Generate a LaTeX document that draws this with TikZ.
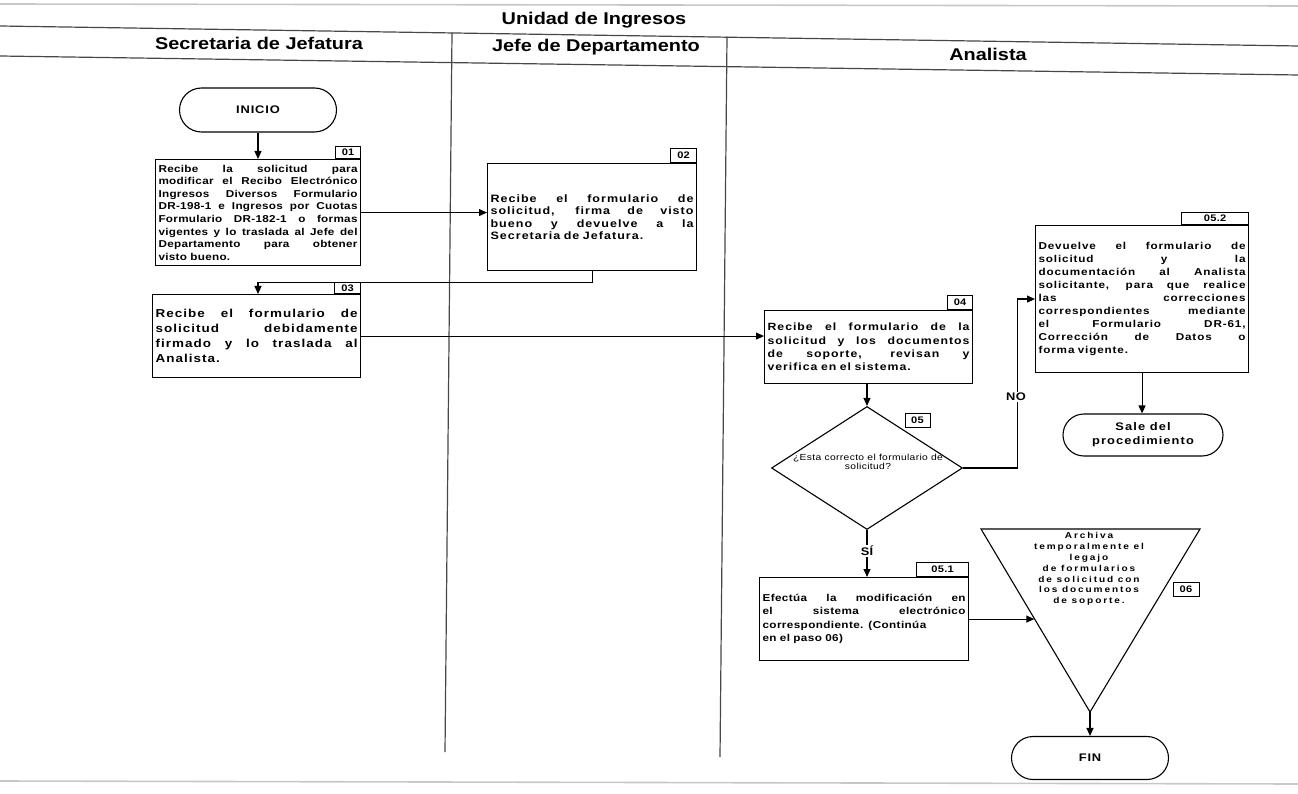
\documentclass[tikz,border=0pt]{standalone}
\usepackage{fontspec}
\setmainfont{Liberation Sans}
\newfontfamily\hdrfont{Liberation Sans}[FakeStretch=1.17]
\newfontfamily\boxfam{Liberation Sans}[FakeStretch=1.17]
\newfontfamily\tinyfam{Liberation Sans}[FakeStretch=1.17,LetterSpace=4]
\newfontfamily\trifam{Liberation Sans}[FakeStretch=1.17,LetterSpace=22]
\usetikzlibrary{arrows.meta,shapes.misc,shapes.geometric,calc}

% bold box font: letter spacing, size, line distance
\newcommand\bxf[3]{\boxfam\bfseries\addfontfeatures{LetterSpace=#1}\fontsize{#2}{#3}\selectfont}

% one fully justified line of a process box, and a final ragged line
\newcommand\jl[1]{\hbox to \hsize{\spaceskip=.3em plus 1fil\relax #1}}
\newcommand\lastln[1]{\hbox to \hsize{#1\hfil}}

\tikzset{
  proc/.style={draw, line width=1.1pt, anchor=north west, inner xsep=3pt, inner ysep=2pt,
    text width=#1, font={\bxf{8}{10.5}{13}}},
  tag/.style={draw, line width=1pt, inner sep=0pt, minimum height=13pt, minimum width=26pt,
    font={\bxf{3}{9.5}{10}}, anchor=south east},
  term/.style={draw, line width=1.1pt, rounded rectangle, inner sep=0pt, align=center,
    font={\bxf{8}{11}{14}}},
  arr/.style={line width=1.1pt, -{Triangle[length=8pt,width=7pt]}},
  lane/.style={line width=1.2pt, draw=black!72},
  hdr/.style={font={\hdrfont\bfseries\fontsize{17}{20}\selectfont}, inner sep=0pt},
  cut/.style={fill=white, inner sep=1.5pt, font={\bxf{3}{11}{12}}}
}

\begin{document}
\begin{tikzpicture}[x=1pt,y=-1pt]
\useasboundingbox (0,0) rectangle (1298,794);

% faint page edges
\draw[black!22, line width=1.6pt] (0,4) -- (1298,6);
\draw[black!22, line width=1.6pt] (0,781) -- (1298,784);

% swimlane frame
\draw[lane] (0,26) -- (1298,46);
\draw[lane] (0,56) -- (1298,75);
\draw[lane] (452,32.6) -- (445,752);
\draw[lane] (727,36.6) -- (720,757);

\node[hdr] (title) at (594,20) {Unidad de Ingresos};
\node[hdr] (hsec)  at (259,43) {Secretaria de Jefatura};
\node[hdr] (hjefe) at (596,47) {Jefe de Departamento};
\node[hdr] (hana)  at (988,54) {Analista};

% Secretaria de Jefatura
\node[term, minimum width=157pt, minimum height=44pt] (ini) at (258,110) {INICIO};

\node[proc=199pt, minimum height=106pt, font={\bxf{3}{10}{12.6}}] (b01) at (155,159) {%
\jl{Recibe la solicitud para}
\jl{modificar el Recibo Electrónico}
\jl{Ingresos Diversos Formulario}
\jl{DR-198-1 e Ingresos por Cuotas}
\jl{Formulario DR-182-1 o formas}
\jl{vigentes y lo traslada al Jefe del}
\jl{Departamento para obtener}
\lastln{visto bueno.}};
\node[tag, minimum width=25pt, minimum height=12pt] (t01) at (b01.north east) {01};

\node[proc=202pt, minimum height=83pt, font={\bxf{9}{11.5}{15}}] (b03) at (152,294) {%
\jl{Recibe el formulario de}
\jl{solicitud debidamente}
\jl{firmado y lo traslada al}
\lastln{Analista.}};
\node[tag, minimum height=11pt] (t03) at (b03.north east) {03};

% Jefe de Departamento
\node[proc=203pt, minimum height=107pt, font={\bxf{9.5}{10.7}{12.3}}] (b02) at (487,163) {%
\jl{Recibe el formulario de}
\jl{solicitud, firma de visto}
\jl{bueno y devuelve a la}
\lastln{Secretaria de Jefatura.}};
\node[tag, minimum height=14pt] (t02) at (b02.north east) {02};

% Analista
\node[proc=202pt, minimum height=73pt, font={\bxf{9.5}{10.5}{13.3}}] (b04) at (764,310) {%
\jl{Recibe el formulario de la}
\jl{solicitud y los documentos}
\jl{de soporte, revisan y}
\lastln{verifica en el sistema.}};
\node[tag, minimum width=25pt, minimum height=14pt] (t04) at (b04.north east) {04};

\node[draw, diamond, line width=1.1pt, minimum width=191pt, minimum height=123pt, inner sep=0pt,
  shape aspect=1.55] (d05) at (867,468) {};
\node[align=center, inner sep=0pt, font={\tinyfam\fontsize{8.8}{9.5}\selectfont}] (q05) at (868,462)
  {¿Esta correcto el formulario de\\solicitud?};
\node[tag, anchor=center, minimum width=25pt, minimum height=14pt] (t05) at (917.5,420) {05};

\node[proc=207pt, minimum height=147pt, font={\bxf{8.6}{10}{13}}] (b052) at (1035,225) {%
\jl{Devuelve el formulario de}
\jl{solicitud y la}
\jl{documentación al Analista}
\jl{solicitante, para que realice}
\jl{las correcciones}
\jl{correspondientes mediante}
\jl{el Formulario DR-61,}
\jl{Corrección de Datos o}
\lastln{forma vigente.}};
\node[tag, minimum width=67pt, minimum height=12pt] (t052) at (b052.north east) {05.2};

\node[term, minimum width=160pt, minimum height=42pt, font={\bxf{10}{11}{14}}] (sale) at (1143,435) {Sale del\\procedimiento};

\node[proc=203pt, minimum height=83pt, font={\bxf{4}{10}{13.5}}] (b051) at (759,577) {%
\jl{Efectúa la modificación en}
\jl{el sistema electrónico}
\jl{correspondiente. (Continúa}
\lastln{en el paso 06)}};
\node[tag, minimum width=52pt, minimum height=14pt] (t051) at (b051.north east) {05.1};

% archive symbol (inverted triangle)
\coordinate (tl) at (981,529);
\coordinate (tr) at (1200,529);
\coordinate (apex) at (1090,712);
\draw[line width=1.1pt, line join=miter] (tl) -- (tr) -- (apex) -- cycle;
\path (tl) -- (apex) coordinate[pos=0.489] (tin);
\node[align=center, inner sep=0pt, font={\trifam\bfseries\fontsize{8.6}{10.8}\selectfont}] (arch) at (1089,569)
  {Archiva\\temporalmente el\\legajo\\de formularios\\de solicitud con\\los documentos\\de soporte.};
\node[tag, anchor=center, minimum width=26pt, minimum height=14pt] (t06) at (1186,589) {06};

\node[term, minimum width=157pt, minimum height=43pt] (fin) at (1090,758) {FIN};

% connectors
\draw[arr] (ini.south) -- (ini.south |- b01.north);
\draw[arr] (b01.east) -- (b01.east -| b02.west);
\draw[arr] (b02.south) -- ++(0,11) -| ($(ini.south |- b03.north)$);
\draw[arr] (b03.east) -- (b03.east -| b04.west);
\draw[arr] (d05.north |- b04.south) -- (d05.north);
\draw[arr] (d05.east) -- ++(54,0) |- (b052.west);
\node[cut] (no) at (1016,397) {NO};
\draw[arr] (d05.south) -- (d05.south |- b051.north);
\node[cut] (si) at (867,551) {SÍ};
\draw[arr] (b052.south) -- (b052.south |- sale.north);
\draw[arr] (b051.east) -- (b051.east -| tin);
\draw[arr] (apex) -- (fin.north);
\end{tikzpicture}
\end{document}
